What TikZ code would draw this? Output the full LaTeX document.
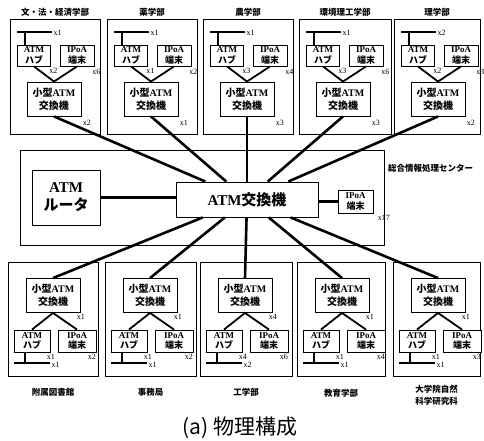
\documentclass[tikz,border=0pt]{standalone}
\usepackage{fontspec}
\setmainfont{Liberation Serif}
\newfontfamily\jp{Noto Sans CJK JP}
\tikzset{
 deptbox/.style={draw, line width=0.7pt, inner sep=0pt},
 ebox/.style={draw, line width=0.9pt, fill=white, inner sep=0pt, align=center},
 smallbox/.style={ebox, font=\fontsize{9}{10.5}\selectfont\bfseries},
 swbox/.style={ebox, font=\fontsize{10}{13}\selectfont\bfseries, minimum width=54, minimum height=34},
 trunk/.style={line width=2.6pt},
 link/.style={line width=1.8pt},
 busline/.style={line width=1.4pt},
 mult/.style={font=\fontsize{8}{8}\selectfont, inner sep=0.3pt},
 dlabel/.style={font=\jp\bfseries\fontsize{8.5}{12}\selectfont, align=center, inner sep=0pt},
}
\newcommand\TopDept[8]{%
\begin{scope}[shift={(#2,0)}]
 \node[deptbox, minimum width=#3, minimum height=115, anchor=north west] (#1box) at (0,19) {};
 \node[dlabel] (#1lab) at (#3/2,12) {#4};
 \node[smallbox, minimum width=33, minimum height=21] (#1hub) at (24,55.5) {ATM\\{\jp ハブ}};
 \node[smallbox, minimum width=34, minimum height=21] (#1ip) at (67,55.5) {IPoA\\{\jp 端末}};
 \node[swbox] (#1sw) at (44,99) {{\jp 小型}ATM\\{\jp 交換機}};
 \coordinate (#1bl) at (7,32);
 \coordinate (#1br) at (42,32);
 \coordinate (#1bt) at (15,32);
 \draw[busline] (#1bl) -- (#1br);
 \draw[busline] (#1bt) -- (#1bt |- #1hub.north);
 \draw[link] (#1hub.south) -- (#1sw.north);
 \draw[link] (#1ip.south) -- (#1sw.north);
 \node[mult, anchor=west] (#1mb) at ([shift={(1,1)}]#1br) {x#5};
 \node[mult, anchor=north west] (#1mh) at ([shift={(-2,1)}]#1hub.south east) {x#6};
 \node[mult, anchor=north] (#1mi) at ([shift={(2,2)}]#1ip.south east) {x#7};
 \node[mult, anchor=north west] (#1ms) at ([shift={(1,3)}]#1sw.south east) {x#8};
\end{scope}}
\newcommand\BotDept[9]{%
\begin{scope}[shift={(#2,0)}]
 \node[deptbox, minimum width=#3, minimum height=114, anchor=north west] (#1box) at (0,262) {};
 \node[dlabel] (#1lab) at (#3/2,#9) {#4};
 \node[swbox] (#1sw) at (45,295.5) {{\jp 小型}ATM\\{\jp 交換機}};
 \node[smallbox, minimum width=36, minimum height=22] (#1hub) at (24,341) {ATM\\{\jp ハブ}};
 \node[smallbox, minimum width=38, minimum height=22] (#1ip) at (69,341) {IPoA\\{\jp 端末}};
 \coordinate (#1bl) at (6,363);
 \coordinate (#1br) at (42,363);
 \coordinate (#1bt) at (17,363);
 \draw[busline] (#1bl) -- (#1br);
 \draw[busline] (#1bt) -- (#1bt |- #1hub.south);
 \draw[link] (#1sw.south) -- (#1hub.north);
 \draw[link] (#1sw.south) -- (#1ip.north);
 \node[mult, anchor=north west] (#1ms) at ([shift={(-4,1)}]#1sw.south east) {x#5};
 \node[mult, anchor=north west] (#1mh) at ([shift={(-4,1)}]#1hub.south east) {x#6};
 \node[mult, anchor=west] (#1mb) at ([shift={(1,2)}]#1br) {x#7};
 \node[mult, anchor=north east] (#1mi) at ([shift={(0,1)}]#1ip.south east) {x#8};
\end{scope}}
\begin{document}
\begin{tikzpicture}[x=1pt,y=-1pt]
\useasboundingbox (0,0) rectangle (484,441);
\TopDept{ta}{10}{90}{文・法・経済学部}{1}{2}{6}{2}
\TopDept{tb}{107}{90}{薬学部}{1}{1}{2}{1}
\TopDept{tc}{203}{90}{農学部}{1}{3}{4}{3}
\TopDept{td}{299}{92}{環境理工学部}{1}{3}{6}{3}
\TopDept{te}{394}{86}{理学部}{2}{2}{3}{2}
\BotDept{ba}{8}{90}{附属図書館}{1}{1}{1}{2}{392}
\BotDept{bb}{105}{91}{事務局}{1}{1}{1}{2}{392}
\BotDept{bc}{200}{92}{工学部}{4}{4}{2}{6}{392}
\BotDept{bd}{297}{88}{教育学部}{1}{1}{1}{4}{393}
\BotDept{be}{393}{87}{大学院自然\\科学研究科}{1}{1}{1}{3}{395}
\node[deptbox, minimum width=364, minimum height=95, anchor=north west] (cbox) at (20,150) {};
\node[font=\jp\bfseries\fontsize{8.5}{10}\selectfont, anchor=west, inner sep=0pt] (clab) at (388,168) {総合情報処理センター};
\node[ebox, minimum width=68, minimum height=55, font=\fontsize{15}{18}\selectfont\bfseries] (router) at (66,197.5) {ATM\\{\jp ルータ}};
\node[ebox, minimum width=142, minimum height=35, font=\fontsize{15}{18}\selectfont\bfseries] (core) at (247,199.5) {ATM{\jp 交換機}};
\node[smallbox, minimum width=35, minimum height=23] (cip) at (355.5,201.5) {IPoA\\{\jp 端末}};
\node[mult, anchor=north west] (cipm) at ([shift={(4,1)}]cip.south east) {x17};
\draw[trunk] (router.east) -- (router.east -| core.west);
\draw[trunk] (core.east |- cip.west) -- (cip.west);
\draw[trunk] (tasw.south) -- (core);
\draw[trunk] (tbsw.south) -- (core);
\draw[trunk] (tcsw.south) -- (core);
\draw[trunk] (tdsw.south) -- (core);
\draw[trunk] (tesw.south) -- (core);
\draw[trunk] (basw.north) -- (core);
\draw[trunk] (bbsw.north) -- (core);
\draw[trunk] (bcsw.north) -- (core);
\draw[trunk] (bdsw.north) -- (core);
\draw[trunk] (besw.north) -- (core);
\node[font=\jp\fontsize{21}{24}\selectfont, inner sep=0pt] (cap) at (240,428) {(a) 物理構成};
\end{tikzpicture}
\end{document}
